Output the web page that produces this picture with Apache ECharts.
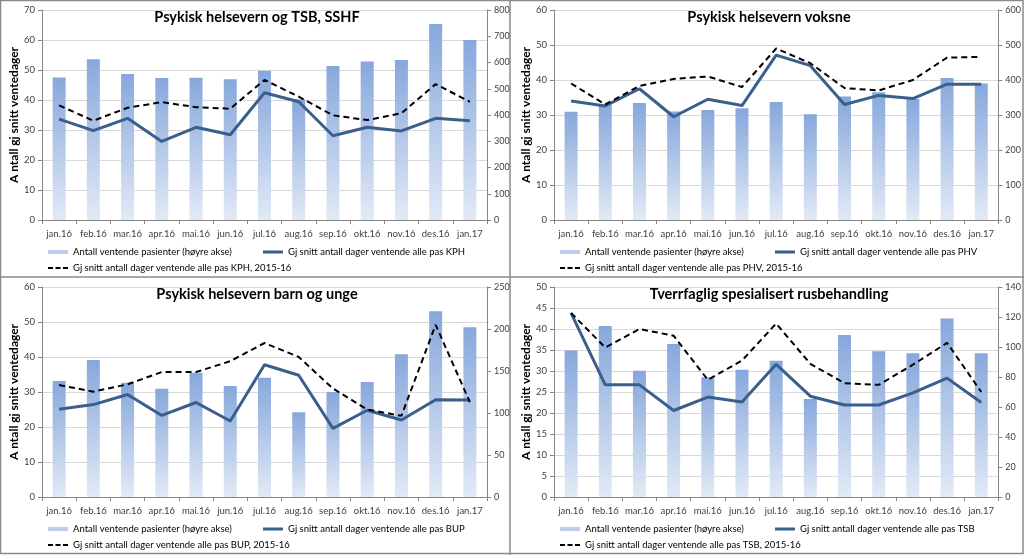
<!DOCTYPE html>
<html>
<head>
<meta charset="utf-8">
<script src="https://cdn.jsdelivr.net/npm/echarts@6/dist/echarts.min.js"></script>
<style>
html,body{margin:0;padding:0;background:#fff;}
#c{width:1024px;height:555px;}
</style>
</head>
<body>
<div id="c"></div>
<script>
const categories = ['jan.16','feb.16','mar.16','apr.16','mai.16','jun.16','jul.16','aug.16','sep.16','okt.16','nov.16','des.16','jan.17'];

const titles = ['Psykisk helsevern og TSB, SSHF','Psykisk helsevern voksne','Psykisk helsevern barn og unge','Tverrfaglig spesialisert rusbehandling'];
const units = ['KPH','PHV','BUP','TSB'];

// Antall ventende pasienter (høyre akse)
const bars1 = [543,612,556,541,542,536,569,460,587,604,610,747,686];
const bars2 = [309,330,334,310,314,319,337,302,353,365,346,406,390];
const bars3 = [138,163,136,129,148,132,142,101,125,137,170,221,202];
const bars4 = [97.6,114,84.2,102,79.8,84.9,90.9,65.3,108,97.1,95.8,119,95.8];

// Gj snitt antall dager ventende alle pas
const solid1 = [33.6,29.8,33.9,26.2,30.9,28.4,42.4,39.4,28.1,30.9,29.7,33.9,33.1];
const solid2 = [34.0,32.6,37.5,29.5,34.5,32.7,47.1,44.1,33.0,35.6,34.7,38.8,38.8];
const solid3 = [25.1,26.4,29.3,23.3,27.0,21.7,37.8,34.8,19.6,24.8,22.0,27.8,27.7];
const solid4 = [43.8,26.7,26.7,20.6,23.8,22.6,31.6,24.0,21.9,21.9,24.8,28.3,22.5];

// Gj snitt antall dager ventende alle pas, 2015-16
const dashed1 = [38.2,33.1,37.4,39.3,37.6,37.1,46.7,41.1,34.9,33.3,35.6,45.3,39.4];
const dashed2 = [39.0,33.0,38.3,40.3,41.0,38.0,49.0,44.8,37.7,37.0,40.0,46.4,46.6];
const dashed3 = [32.0,30.1,32.2,35.7,35.7,38.8,44.0,40.0,31.0,25.0,23.2,49.2,27.1];
const dashed4 = [43.8,35.6,40.0,38.4,27.9,32.5,41.3,31.7,27.1,26.7,31.5,36.7,25.0];

const leftMax = [70,60,60,50];
const leftInt = [10,10,10,5];
const rightMax = [800,600,250,140];
const rightInt = [100,100,50,20];

const barsAll = [bars1,bars2,bars3,bars4];
const solidAll = [solid1,solid2,solid3,solid4];
const dashedAll = [dashed1,dashed2,dashed3,dashed4];

const FONT = 'Lato, "Noto Sans", sans-serif';
const pos = [[42,10],[554,10],[42,287],[554,287]];
const titleY = [17,17,294,294];
const W = 445, H = 210;

const grid=[], xAxis=[], yAxis=[], series=[], legend=[], texts=[];
const barName = 'Antall ventende pasienter (høyre akse)';
const axisCol = '#868686', labCol = '#404040';
const SOLID = '#3b5f8d';
const dashIcon = 'path://M0,0H5V2H0Z M7.5,0H12.5V2H7.5Z M15,0H20V2H15Z';

for (let i=0;i<4;i++){
  const [l,t] = pos[i];
  grid.push({left:l, top:t, width:W, height:H});
  texts.push({type:'text', x:l + 215, y:titleY[i], z:10,
    style:{text:titles[i], align:'center', verticalAlign:'middle',
      font:'bold 14.5px ' + FONT, fill:'#000'}});
  xAxis.push({type:'category', gridIndex:i, data:categories, boundaryGap:true,
    axisLine:{lineStyle:{color:axisCol}}, axisTick:{show:true, length:4, lineStyle:{color:axisCol}},
    axisLabel:{interval:0, fontFamily:FONT, fontSize:9.5, color:labCol, margin:9}});
  yAxis.push({type:'value', gridIndex:i, min:0, max:leftMax[i], interval:leftInt[i], position:'left',
    name:'A ntall gj snitt ventedager', nameLocation:'middle', nameGap:20, nameRotate:90,
    nameTextStyle:{fontFamily:FONT, fontWeight:'bold', fontSize:12, color:'#000'},
    axisLine:{show:true, lineStyle:{color:axisCol}}, axisTick:{show:true, length:4, lineStyle:{color:axisCol}},
    splitLine:{show:true, lineStyle:{color:'#d9d9d9'}},
    axisLabel:{fontFamily:FONT, fontSize:9.5, color:labCol, margin:7}});
  yAxis.push({type:'value', gridIndex:i, min:0, max:rightMax[i], interval:rightInt[i], position:'right',
    axisLine:{show:true, lineStyle:{color:axisCol}}, axisTick:{show:true, length:4, lineStyle:{color:axisCol}},
    splitLine:{show:false},
    axisLabel:{fontFamily:FONT, fontSize:9, color:labCol, margin:7}});
  series.push({type:'bar', name:barName, xAxisIndex:i, yAxisIndex:2*i+1, data:barsAll[i], barWidth:13, z:1,
    itemStyle:{color:new echarts.graphic.LinearGradient(0,0,0,1,[{offset:0,color:'#87a7dc'},{offset:1,color:'#e2eaf6'}])}});
  const sName = 'Gj snitt antall dager ventende alle pas ' + units[i];
  const dName = 'Gj snitt antall dager ventende alle pas ' + units[i] + ', 2015-16';
  series.push({type:'line', name:sName, xAxisIndex:i, yAxisIndex:2*i, data:solidAll[i], symbol:'none', z:3,
    lineStyle:{color:SOLID, width:3}, itemStyle:{color:SOLID}});
  series.push({type:'line', name:dName, xAxisIndex:i, yAxisIndex:2*i, data:dashedAll[i], symbol:'none', z:4,
    lineStyle:{color:'#000', width:2, type:[6,4]}, itemStyle:{color:'#000'}});
  const r1 = t + H + 22, r2 = r1 + 16;
  const lt = {fontFamily:FONT, fontSize:9.5, color:'#000'};
  legend.push({left:l+1, top:r1, itemWidth:20, itemHeight:4, itemGap:4, textStyle:lt, selectedMode:false,
    data:[{name:barName, icon:'rect', itemStyle:{color:'#bccdea'}}]});
  legend.push({left:l+216, top:r1, itemWidth:20, itemHeight:3, textStyle:lt, selectedMode:false,
    data:[{name:sName, icon:'rect', itemStyle:{color:SOLID}}]});
  legend.push({left:l+1, top:r2, itemWidth:20, itemHeight:2.5, textStyle:lt, selectedMode:false,
    data:[{name:dName, icon:dashIcon, itemStyle:{color:'#000'}}]});
}

const frame = {type:'group', children:[
  {type:'rect', shape:{x:0.5,y:0.5,width:1022.5,height:553}, style:{fill:'none', stroke:'#8a8a8a', lineWidth:1.5}},
  {type:'line', shape:{x1:510,y1:0,x2:510,y2:555}, style:{stroke:'#8a8a8a', lineWidth:1.5}},
  {type:'line', shape:{x1:0,y1:277,x2:1024,y2:277}, style:{stroke:'#8a8a8a', lineWidth:1.5}}
]};

const chart = echarts.init(document.getElementById('c'));
chart.setOption({animation:false, backgroundColor:'#fff', grid, xAxis, yAxis, series, legend, graphic:[frame].concat(texts)});
</script>
</body>
</html>
